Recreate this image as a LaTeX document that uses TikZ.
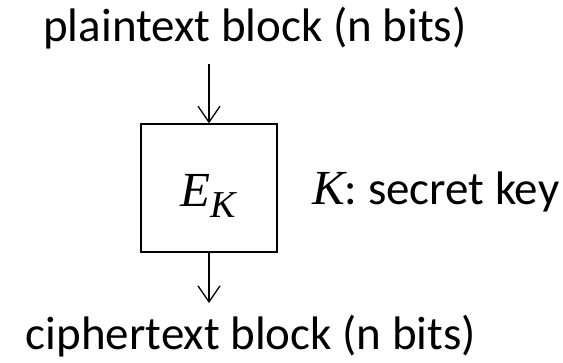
\documentclass[tikz,border=0pt]{standalone}
\usepackage{fontspec}
\setmainfont{Carlito}
\newfontfamily\tnr{Liberation Serif}
\usetikzlibrary{arrows.meta}
\tikzset{
  lbl/.style={font=\fontsize{47}{56}\selectfont, inner sep=0pt, anchor=base},
  blk/.style={draw, line width=1.3pt, minimum width=136pt, minimum height=128pt, inner sep=0pt},
  flow/.style={line width=1.3pt, -{Straight Barb[length=16pt,width=22pt,line width=1.3pt]}}
}
\begin{document}
\begin{tikzpicture}[x=1pt,y=1pt]
\useasboundingbox (0,0) rectangle (563,363);
\node[lbl] (pt) at (255,321) {plaintext block (n bits)};
\node[blk] (box) at (209,175) {};
\node[inner sep=0pt, anchor=base] (ek) at (208,156) {\tnr\itshape\fontsize{49}{56}\selectfont E\raisebox{-11pt}{\fontsize{38}{44}\selectfont K}};
\node[lbl, anchor=base west] (key) at (312,158) {{\tnr\itshape\fontsize{49}{56}\selectfont K}: secret key};
\node[lbl] (ct) at (251,13) {ciphertext block (n bits)};
\coordinate (top) at (209,299);
\coordinate (bot) at (209,60);
\draw[flow] (top) -- (box.north);
\draw[flow] (box.south) -- (bot);
\end{tikzpicture}
\end{document}
